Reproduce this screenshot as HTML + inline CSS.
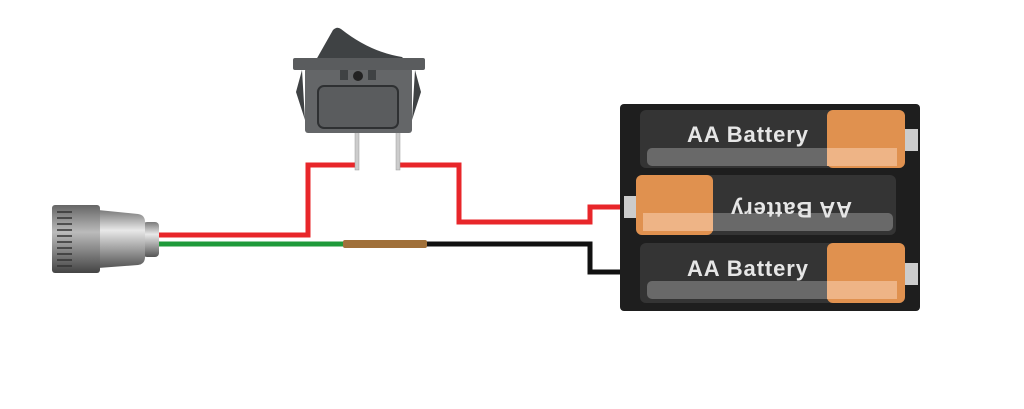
<!DOCTYPE html>
<html><head><style>body{margin:0;background:#fff}svg{display:block}</style></head><body>
<svg width="1024" height="409" viewBox="0 0 1024 409" xmlns="http://www.w3.org/2000/svg">
<defs>
<linearGradient id="m" x1="0" y1="0" x2="0" y2="1"><stop offset="0" stop-color="#7a7a7a"/><stop offset="0.35" stop-color="#e8e8e8"/><stop offset="0.6" stop-color="#b0b0b0"/><stop offset="1" stop-color="#555"/></linearGradient>
<linearGradient id="c" x1="0" y1="0" x2="0" y2="1"><stop offset="0" stop-color="#666"/><stop offset="0.4" stop-color="#bbb"/><stop offset="1" stop-color="#444"/></linearGradient>
</defs>
<g fill="none" stroke-width="5">
<polyline points="158,235 308,235 308,165 357,165" stroke="#e8262a"/>
<polyline points="398,165 459,165 459,222 590,222 590,207 622,207" stroke="#e8262a"/>
<polyline points="158,244 345,244" stroke="#1f9a3a"/>
<polyline points="425,244 590,244 590,272 622,272" stroke="#111"/>
</g>
<rect x="343" y="240" width="84" height="8" rx="2" fill="#a0703a"/>
<rect x="143" y="222" width="16" height="35" rx="4" fill="url(#m)"/>
<path d="M98,210 L138,214 Q145,215 145,222 L145,257 Q145,264 138,265 L98,268 Z" fill="url(#m)"/>
<rect x="52" y="205" width="48" height="68" rx="3" fill="url(#c)"/>
<g stroke="#333" stroke-width="1.5">
<line x1="57" y1="212" x2="72" y2="212"/><line x1="57" y1="218" x2="72" y2="218"/><line x1="57" y1="224" x2="72" y2="224"/><line x1="57" y1="230" x2="72" y2="230"/><line x1="57" y1="236" x2="72" y2="236"/><line x1="57" y1="242" x2="72" y2="242"/><line x1="57" y1="248" x2="72" y2="248"/><line x1="57" y1="254" x2="72" y2="254"/><line x1="57" y1="260" x2="72" y2="260"/><line x1="57" y1="266" x2="72" y2="266"/>
</g>
<rect x="355" y="130" width="4" height="40" fill="#ccc" stroke="#999" stroke-width="0.5"/>
<rect x="396" y="130" width="4" height="40" fill="#ccc" stroke="#999" stroke-width="0.5"/>
<path d="M316,60 L333,30 Q337,26 341,29 Q370,52 402,57 L405,60 Z" fill="#3f4244"/>
<path d="M302,70 L296,92 L305,120 Z M415,70 L421,92 L412,120 Z" fill="#3f4244"/>
<rect x="305" y="68" width="107" height="65" rx="3" fill="#646668"/>
<rect x="293" y="58" width="132" height="12" rx="2" fill="#5a5c5e"/>
<rect x="318" y="86" width="80" height="42" rx="6" fill="#5a5c5e" stroke="#2e3032" stroke-width="2"/>
<rect x="340" y="70" width="8" height="10" fill="#3f4244"/><rect x="368" y="70" width="8" height="10" fill="#3f4244"/>
<circle cx="358" cy="76" r="5" fill="#222"/>
<rect x="620" y="104" width="300" height="207" rx="4" fill="#1e1e1e"/>
<g>
<rect x="640" y="110" width="265" height="58" rx="6" fill="#343434"/>
<rect x="827" y="110" width="78" height="58" rx="6" fill="#e0914f"/>
<rect x="647" y="148" width="250" height="18" rx="5" fill="#777" opacity="0.8"/>
<rect x="827" y="148" width="70" height="18" fill="#eeb486"/>
<rect x="905" y="129" width="13" height="22" fill="#ccc"/>
<text x="687" y="142" font-family="Liberation Sans, sans-serif" font-weight="bold" font-size="22" fill="#e6e6e6" textLength="121">AA Battery</text>
</g>
<g>
<rect x="636" y="175" width="260" height="60" rx="6" fill="#343434"/>
<rect x="636" y="175" width="77" height="60" rx="6" fill="#e0914f"/>
<rect x="643" y="213" width="250" height="18" rx="5" fill="#777" opacity="0.8"/>
<rect x="643" y="213" width="70" height="18" fill="#eeb486"/>
<rect x="624" y="196" width="12" height="22" fill="#ccc"/>
<text transform="translate(852,202) rotate(180)" x="0" y="0" font-family="Liberation Sans, sans-serif" font-weight="bold" font-size="22" fill="#e6e6e6" textLength="121">AA Battery</text>
</g>
<g>
<rect x="640" y="243" width="265" height="60" rx="6" fill="#343434"/>
<rect x="827" y="243" width="78" height="60" rx="6" fill="#e0914f"/>
<rect x="647" y="281" width="250" height="18" rx="5" fill="#777" opacity="0.8"/>
<rect x="827" y="281" width="70" height="18" fill="#eeb486"/>
<rect x="905" y="263" width="13" height="22" fill="#ccc"/>
<text x="687" y="276" font-family="Liberation Sans, sans-serif" font-weight="bold" font-size="22" fill="#e6e6e6" textLength="121">AA Battery</text>
</g>
</svg>
</body></html>
